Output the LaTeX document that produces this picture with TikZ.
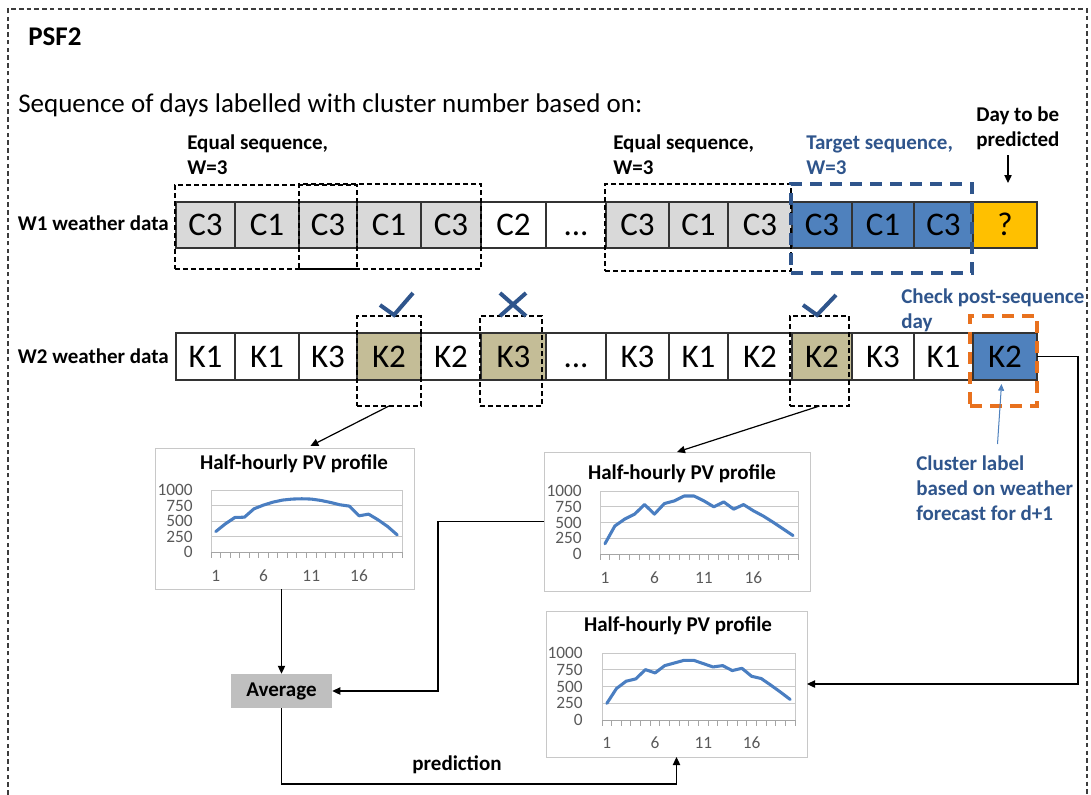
\documentclass[tikz,border=0pt]{standalone}
\usepackage{fontspec}
\setmainfont{Carlito}
\usetikzlibrary{arrows.meta,calc}

\definecolor{cellgrey}{RGB}{217,217,217}
\definecolor{cellblue}{RGB}{79,129,189}
\definecolor{cellgold}{RGB}{255,192,0}
\definecolor{cellolive}{RGB}{196,189,151}
\definecolor{seqnavy}{RGB}{47,85,140}
\definecolor{flameorange}{RGB}{232,113,30}
\definecolor{pvblue}{RGB}{74,126,193}
\definecolor{gridgrey}{RGB}{200,200,200}
\definecolor{axisgrey}{RGB}{165,165,165}
\definecolor{labgrey}{RGB}{89,89,89}
\definecolor{avggrey}{RGB}{191,191,191}
\definecolor{framegrey}{RGB}{60,60,60}

\newcommand\lblfont{\fontsize{15.75}{18.6}\selectfont\bfseries}
\newcommand\gapdots{...}

% one small line chart: name, plot left, plot right, y of 1000, y of 0,
% y of category labels, right edge of value labels, data points
\newcommand\pvchart[8]{%
  \pgfmathsetmacro\pvw{(#3-#2)/20}%
  \pgfmathsetmacro\pvg{(#5-#4)/4}%
  \foreach \k in {1,2,3,4}
    \draw[gridline] (#2,{#5-\k*\pvg}) -- (#3,{#5-\k*\pvg});
  \draw[gridline] (#2,#4) -- (#2,#5) (#3,#4) -- (#3,#5);
  \draw[axisline] (#2,#5) -- (#3,#5);
  \foreach \k in {0,...,20}
    \draw[axisline] ({#2+\k*\pvw},#5) -- ({#2+\k*\pvw},{#5+6});
  \foreach \v [count=\k from 0] in {0,250,500,750,1000}
    \node[valuelab] (#1v\k) at (#7,{#5-\k*\pvg}) {\v};
  \foreach \n in {1,6,11,16}
    \node[catlab] (#1c\n) at ({#2+(\n-0.5)*\pvw},#6) {\n};
  \pgfmathsetmacro\pvx{\pvw*0.75}%
  \pgfmathsetmacro\pvy{(#5-#4)*0.75/1000}%
  \begin{scope}[shift={({#2-0.5*\pvw},#5)}, x=\pvx pt, y=\pvy pt]
    \draw[pvline] plot coordinates {#8};
  \end{scope}
}

\begin{document}
\begin{tikzpicture}[x=0.75pt,y=-0.75pt,
  daycell/.style={draw=black!80, line width=0.8pt, minimum height=34.5pt,
    inner sep=0pt, outer sep=0pt, text height=16pt, text depth=0pt,
    font=\fontsize{24.75}{28}\selectfont},
  selbox/.style={draw=black, line width=0.8pt, dash pattern=on 3.6pt off 2.4pt,
    inner sep=0pt, outer sep=0pt},
  targetbox/.style={draw=seqnavy, line width=2.6pt, dash pattern=on 9pt off 6pt,
    inner sep=0pt, outer sep=0pt},
  postbox/.style={draw=flameorange, line width=2.6pt, dash pattern=on 9pt off 6pt,
    inner sep=0pt, outer sep=0pt},
  lbl/.style={font=\lblfont, inner sep=0pt, align=left},
  bluelbl/.style={lbl, text=seqnavy},
  chartbox/.style={draw=gridgrey, line width=0.75pt, inner sep=0pt, outer sep=0pt},
  charttitle/.style={font=\lblfont, inner sep=0pt},
  gridline/.style={draw=gridgrey, line width=0.75pt},
  axisline/.style={draw=axisgrey, line width=0.75pt},
  pvline/.style={draw=pvblue, line width=2.3pt, line join=round, line cap=round},
  valuelab/.style={anchor=east, inner sep=0pt, text=labgrey,
    font=\fontsize{13}{14}\selectfont},
  catlab/.style={inner sep=0pt, text=labgrey, font=\fontsize{13}{14}\selectfont},
  conn/.style={draw=black, line width=0.9pt},
  arr/.style={conn, -{Triangle[length=6pt,width=5.5pt]}},
  bluearr/.style={draw=cellblue, line width=0.75pt, -{Triangle[length=5pt,width=4.5pt]}},
  tickmark/.style={draw=seqnavy, line width=3pt},
  avgbox/.style={fill=avggrey, minimum width=75.75pt, minimum height=25.5pt,
    inner sep=0pt, font=\lblfont},
  outerframe/.style={draw=framegrey, line width=0.8pt, dash pattern=on 3.4pt off 2.4pt}]

\useasboundingbox (0,0) rectangle (1091,794);

% surrounding frame
\draw[outerframe] (8,810) -- (8,9) -- (1087,9) -- (1087,810);

% headings
\node[anchor=west, inner sep=0pt, font=\fontsize{20.25}{24}\selectfont\bfseries] (psf) at (28,37) {PSF2};
\node[anchor=west, inner sep=0pt, font=\fontsize{20.25}{24}\selectfont] (intro) at (18,105)
  {Sequence of days labelled with cluster number based on:};

% first row of labelled days
\node[lbl, anchor=east] (w1lbl) at (169,223) {W1 weather data};
\foreach \a/\b/\f/\t [count=\i] in {176/235/cellgrey/C3, 235/299/cellgrey/C1,
    299/357/cellgrey/C3, 357/421/cellgrey/C1, 421/481/cellgrey/C3, 481/546/white/C2,
    546/606/white/\gapdots, 606/669/cellgrey/C3, 669/728/cellgrey/C1, 728/792/cellgrey/C3,
    792/852/cellblue/C3, 852/914/cellblue/C1, 914/973/cellblue/C3, 973/1037/cellgold/?}
  \node[daycell, fill=\f, minimum width={(\b-\a)*0.75pt}] (wa\i) at ({(\a+\b)/2},225) {\t};

% second row of labelled days
\node[lbl, anchor=east] (w2lbl) at (169,356) {W2 weather data};
\foreach \a/\b/\f/\t [count=\i] in {176/235/white/K1, 235/299/white/K1,
    299/357/white/K3, 357/421/cellolive/K2, 421/481/white/K2, 481/546/cellolive/K3,
    546/606/white/\gapdots, 606/669/white/K3, 669/728/white/K1, 728/792/white/K2,
    792/852/cellolive/K2, 852/914/white/K3, 914/973/white/K1, 973/1037/cellblue/K2}
  \node[daycell, fill=\f, minimum width={(\b-\a)*0.75pt}, minimum height=35.25pt] (wb\i) at ({(\a+\b)/2},356.5) {\t};

% windows around matching sequences
\node[selbox, minimum width=136.5pt, minimum height=63pt] (eqA) at (266,227) {};
\node[selbox, minimum width=136.5pt, minimum height=63.75pt] (eqB) at (390,226.5) {};
\node[selbox, minimum width=139.5pt, minimum height=65.25pt] (eqC) at (698,227.5) {};
\node[targetbox, minimum width=135.75pt, minimum height=66.75pt] (tgt) at (881.5,228.5) {};

\node[selbox, minimum width=48pt, minimum height=67.5pt] (pickA) at (389,361) {};
\node[selbox, minimum width=46.5pt, minimum height=67.5pt] (pickB) at (511,361) {};
\node[selbox, minimum width=44.25pt, minimum height=67.5pt] (pickC) at (819.5,361) {};
\node[postbox, minimum width=50.25pt, minimum height=67.5pt] (post) at (1003.5,361) {};

% labels of the windows
\node[lbl, anchor=west] (eqlblA) at (187,155) {Equal sequence,\\W=3};
\node[lbl, anchor=west] (eqlblC) at (613,155) {Equal sequence,\\W=3};
\node[bluelbl, anchor=west] (tgtlbl) at (806,155) {Target sequence,\\W=3};
\node[lbl, anchor=west] (daylbl) at (976,128) {Day to be\\predicted};
\node[bluelbl, anchor=west] (postlbl) at (901,310) {Check post-sequence\\day};
\node[bluelbl, anchor=west] (cluslbl) at (916,488) {Cluster label\\based on weather\\forecast for d+1};

\draw[arr] ($(wa14.north)+(3,-47)$) -- ($(wa14.north)+(3,-19)$);
\draw[bluearr] ($(post.south)+(-6,38)$) -- ($(post.south)+(-2,-22)$);

% accepted / rejected marks
\draw[tickmark] (380,305) -- (394,315) -- (413,293);
\draw[tickmark] (500,293) -- (526,316) (526,293) -- (500,316);
\draw[tickmark] (803,305) -- (817,315) -- (836,295);

% profile charts
\node[chartbox, minimum width=194.25pt, minimum height=105.75pt] (chart1) at (284.5,518.5) {};
\node[charttitle] (chart1t) at (294,464) {Half-hourly PV profile};
\pvchart{ca}{211}{402}{490}{552}{576}{193}{(1,330) (2,454) (3,557) (4,562) (5,697) (6,757) (7,805) (8,838) (9,854) (10,859) (11,854) (12,832) (13,800) (14,762) (15,740) (16,584) (17,611) (18,519) (19,411) (20,276)}

\node[chartbox, minimum width=199.5pt, minimum height=104.25pt] (chart2) at (677,521.5) {};
\node[charttitle] (chart2t) at (682,474) {Half-hourly PV profile};
\pvchart{cb}{600}{798}{491}{554}{578}{582}{(1,163) (2,445) (3,555) (4,634) (5,785) (6,634) (7,801) (8,843) (9,921) (10,921) (11,843) (12,749) (13,827) (14,712) (15,785) (16,686) (17,602) (18,503) (19,398) (20,293)}

\node[chartbox, minimum width=195.75pt, minimum height=109.5pt] (chart3) at (676.5,684) {};
\node[charttitle] (chart3t) at (678,626) {Half-hourly PV profile};
\pvchart{cc}{602}{795}{653}{720}{743}{583}{(1,248) (2,470) (3,579) (4,614) (5,752) (6,703) (7,812) (8,851) (9,891) (10,891) (11,842) (12,792) (13,812) (14,738) (15,772) (16,653) (17,619) (18,520) (19,416) (20,307)}

% averaging step
\node[avgbox] (avg) at (281.5,691) {Average};
\node[lbl] (predlbl) at (457,765) {prediction};
\coordinate (predlow) at (0,784);

% connectors
\draw[arr] (pickA.south) -- ($(chart1.north west)!0.6!(chart1.north east)+(0,-2)$);
\draw[arr] (pickC.south) -- (chart2.north);
\draw[arr] (avg.north |- chart1.south) -- (avg.north);
\draw[arr] (chart2.west) -- ++(-106,0) |- (avg.east);
\draw[arr] (avg.south) -- (avg.south |- predlow) -| (chart3.south);
\draw[arr] (wb14.east) -- ++(41,0) |- (chart3.east);

\end{tikzpicture}
\end{document}
